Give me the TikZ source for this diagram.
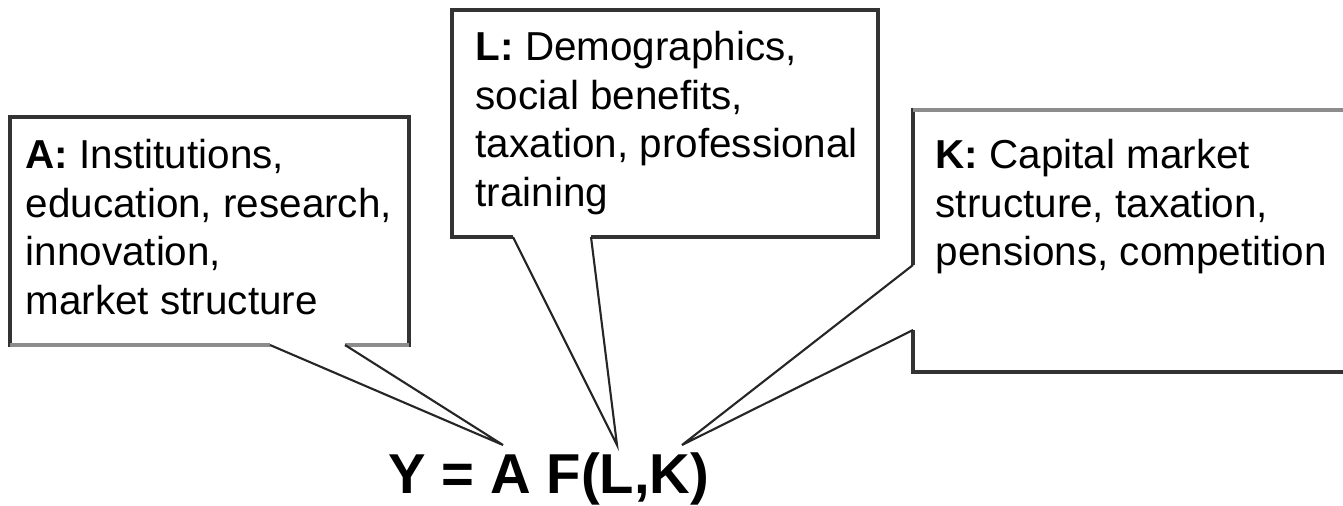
\documentclass[tikz,border=0pt]{standalone}
\usepackage{fontspec}
\setmainfont{Liberation Sans}
\usetikzlibrary{positioning,calc}

\tikzset{
    box/.style={draw=black!80, line width=0.9pt, line join=miter},
    shade/.style={draw=black!45, line width=1.4pt},
    pointer/.style={draw=black!85, line width=0.6pt},
    boxtext/.style={anchor=north west, inner sep=0pt, align=left, font=\fontsize{11.5pt}{13.8pt}\selectfont},
}

\begin{document}
\begin{tikzpicture}
    \useasboundingbox (0,0) rectangle (13.43,5.05);

    % Equation
    \node[anchor=base, inner sep=0pt, font=\fontsize{16pt}{19pt}\selectfont\bfseries] (eq) at (5.49,0.12) {Y = A F(L,K)};
    \coordinate (tipA) at (5.03,0.60);
    \coordinate (tipL) at (6.17,0.60);
    \coordinate (tipK) at (6.82,0.60);

    % A box
    \coordinate (aL) at (2.70,1.60);
    \coordinate (aR) at (3.45,1.60);
    \draw[box] (aL) -- (0.10,1.60) -- (0.10,3.88) -- (4.09,3.88) -- (4.09,1.60) -- (aR);
    \draw[shade] (aL) -- (0.10,1.60);
    \draw[shade] (4.09,1.60) -- (aR);
    \draw[pointer] (aL) -- (tipA) -- (aR);
    \node[boxtext] (textA) at (0.25,3.66) {\textbf{A:} Institutions,\\education, research,\\innovation,\\market structure};

    % L box
    \coordinate (lL) at (5.13,2.68);
    \coordinate (lR) at (5.91,2.68);
    \draw[box] (lL) -- (4.52,2.68) -- (4.52,4.95) -- (8.78,4.95) -- (8.78,2.68) -- (lR);
    \draw[pointer] (lL) -- (tipL) -- (lR);
    \node[boxtext] (textL) at (4.75,4.74) {\textbf{L:} Demographics,\\social benefits,\\taxation, professional\\training};

    % K box
    \coordinate (kT) at (9.13,2.40);
    \coordinate (kB) at (9.13,1.75);
    \draw[box] (13.6,3.95) -- (9.13,3.95) -- (kT);
    \draw[box] (kB) -- (9.13,1.33) -- (13.6,1.33);
    \draw[shade] (13.6,3.95) -- (9.13,3.95);
    \draw[pointer] (kT) -- (tipK) -- (kB);
    \node[boxtext] (textK) at (9.35,3.66) {\textbf{K:} Capital market\\structure, taxation,\\pensions, competition};
\end{tikzpicture}
\end{document}
